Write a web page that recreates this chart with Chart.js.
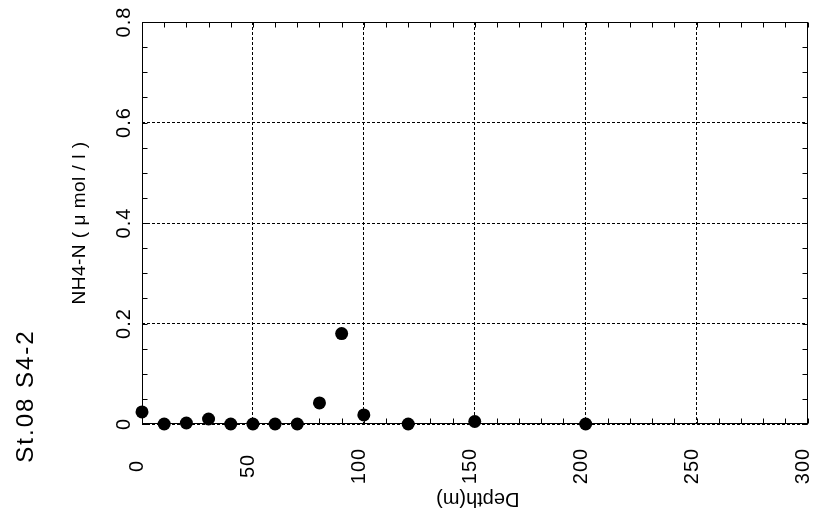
<!DOCTYPE html>
<html>
<head>
<meta charset="utf-8">
<script src="https://cdn.jsdelivr.net/npm/chart.js@4/dist/chart.umd.min.js"></script>
<style>
html,body{margin:0;padding:0;background:#fff;}
#wrap{width:814px;height:525px;position:relative;}
</style>
</head>
<body>
<div id="wrap"><canvas id="c" width="814" height="525"></canvas></div>
<script>
// ---- data ----
const depths = [0, 10, 20, 30, 40, 50, 60, 70, 80, 90, 100, 120, 150, 200];
const nh4    = [0.024, 0, 0.002, 0.010, 0, 0, 0, 0, 0.042, 0.180, 0.018, 0, 0.005, 0];
const xTicks = [0, 50, 100, 150, 200, 250, 300];
const yTicks = [0, 0.2, 0.4, 0.6, 0.8];
const yTickLabels = ['0', '0.2', '0.4', '0.6', '0.8'];
const xMinor = 10;
const yMinor = 0.05;
const titleText = 'St.08 S4-2';
const xTitle = 'Depth(m)';
const yTitle = 'NH4-N ( μ mol / l )';

const FONT = '"Liberation Sans", Arial, Helvetica, sans-serif';

const decor = {
  id: 'decor',
  afterDraw(chart) {
    const ctx = chart.ctx;
    const xs = chart.scales.x, ys = chart.scales.y;
    const a = chart.chartArea;
    const L = Math.round(a.left) + 0.5, R = Math.round(a.right) - 0.5;
    const T = Math.round(a.top) + 0.5, B = Math.round(a.bottom) - 0.5;
    ctx.save();
    ctx.strokeStyle = '#000';
    ctx.lineWidth = 1;
    ctx.setLineDash([]);
    ctx.strokeRect(L, T, R - L, B - T);
    // minor ticks
    const tl = 5;
    ctx.beginPath();
    for (let v = xs.min; v <= xs.max + 1e-9; v += xMinor) {
      const px = Math.round(xs.getPixelForValue(v)) + 0.5;
      ctx.moveTo(px, B); ctx.lineTo(px, B - tl);
      ctx.moveTo(px, T); ctx.lineTo(px, T + tl);
    }
    for (let v = ys.min; v <= ys.max + 1e-9; v += yMinor) {
      const py = Math.round(ys.getPixelForValue(v)) + 0.5;
      ctx.moveTo(L, py); ctx.lineTo(L + tl, py);
      ctx.moveTo(R, py); ctx.lineTo(R - tl, py);
    }
    ctx.stroke();

    ctx.fillStyle = '#000';
    ctx.textAlign = 'center';
    ctx.textBaseline = 'alphabetic';
    // x tick labels
    ctx.font = '20px ' + FONT;
    ctx.letterSpacing = '1px';
    xTicks.forEach(v => {
      const px = xs.getPixelForValue(v);
      ctx.save();
      ctx.translate(px + 1, 466);
      ctx.rotate(-Math.PI / 2);
      ctx.fillText(String(v), 0, 0);
      ctx.restore();
    });
    // y tick labels
    yTicks.forEach((v, i) => {
      const py = ys.getPixelForValue(v);
      ctx.save();
      ctx.translate(130, py);
      ctx.rotate(-Math.PI / 2);
      ctx.fillText(yTickLabels[i], 0, 0);
      ctx.restore();
    });
    // y title
    ctx.font = '19px ' + FONT;
    ctx.letterSpacing = '0.5px';
    ctx.save();
    ctx.translate(85, (a.top + a.bottom) / 2);
    ctx.rotate(-Math.PI / 2);
    ctx.fillText(yTitle, 0, 0);
    ctx.restore();
    // x title (upside down)
    ctx.font = '20px ' + FONT;
    ctx.letterSpacing = '0px';
    ctx.save();
    ctx.translate((a.left + a.right) / 2 + 3, 493);
    ctx.rotate(Math.PI);
    ctx.fillText(xTitle, 0, 0);
    ctx.restore();
    // main title
    ctx.font = '24px ' + FONT;
    ctx.letterSpacing = '2px';
    ctx.save();
    ctx.translate(33, 396);
    ctx.rotate(-Math.PI / 2);
    ctx.fillText(titleText, 0, 0);
    ctx.restore();
    ctx.restore();
  }
};

new Chart(document.getElementById('c'), {
  type: 'scatter',
  data: {
    datasets: [{
      data: depths.map((d, i) => ({ x: d, y: nh4[i] })),
      backgroundColor: '#000',
      borderColor: '#000',
      borderWidth: 0,
      pointRadius: 6.5,
      pointHoverRadius: 6.5,
      clip: false
    }]
  },
  options: {
    responsive: false,
    animation: false,
    events: [],
    layout: { padding: { left: 142, top: 22, right: 4, bottom: 101 } },
    plugins: { legend: { display: false }, tooltip: { enabled: false } },
    scales: {
      x: {
        type: 'linear', min: 0, max: 300,
        ticks: { display: false, stepSize: 50 },
        grid: { color: '#000', lineWidth: 1, drawTicks: false },
        border: { display: false, dash: [3, 2] },
        afterFit(s) { s.height = 0; s.paddingLeft = 0; s.paddingRight = 0; }
      },
      y: {
        type: 'linear', min: 0, max: 0.8,
        ticks: { display: false, stepSize: 0.2 },
        grid: { color: '#000', lineWidth: 1, drawTicks: false },
        border: { display: false, dash: [3, 2] },
        afterFit(s) { s.width = 0; s.paddingTop = 0; s.paddingBottom = 0; }
      }
    }
  },
  plugins: [decor]
});
</script>
</body>
</html>
